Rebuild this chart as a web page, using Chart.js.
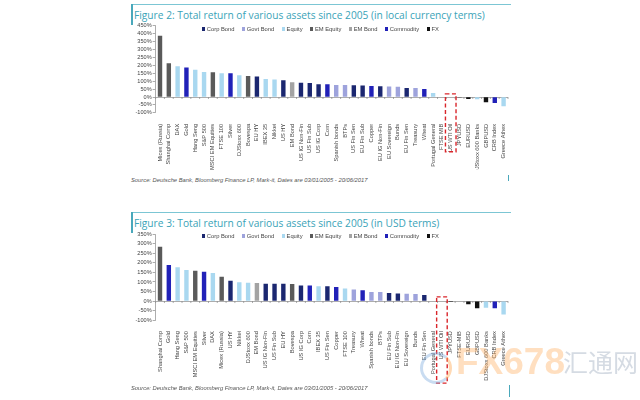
<!DOCTYPE html>
<html><head><meta charset="utf-8">
<script src="https://cdn.jsdelivr.net/npm/chart.js@4.4.0/dist/chart.umd.min.js"></script>
<style>
html,body{margin:0;padding:0;background:#fff;width:640px;height:400px;overflow:hidden;position:relative;font-family:"Liberation Sans",Arial,sans-serif}
.abs{position:absolute}
.title{color:#3aa3b8;font-family:"Open Sans",sans-serif;font-size:10.2px;line-height:10px;white-space:nowrap}
.src{font-style:italic;color:#555;font-size:5.8px;line-height:6px;white-space:nowrap}
.hline{height:1px;background:#7cc6d4}
.vline{background:#4aa8bb}
.legend{position:absolute;display:flex;align-items:center;font-size:5.8px;color:#444;white-space:nowrap;line-height:6px}
.legend span{display:inline-flex;align-items:center;margin-right:7.5px}
.legend i{display:inline-block;width:3.3px;height:3.3px;margin-right:1.5px}
canvas{position:absolute}
</style></head><body>

<div class="abs hline" style="left:131px;top:4px;width:380px"></div>
<div class="abs vline" style="left:131px;top:4px;width:1.5px;height:21px"></div>
<div class="abs title" style="left:134px;top:9.5px">Figure 2: Total return of various assets since 2005 (in local currency terms)</div>
<canvas id="c1" width="415" height="150" style="left:100px;top:20px"></canvas>
<div class="legend" id="lg1" style="left:202px;top:26px"></div>
<div class="abs src" style="left:131px;top:177px">Source: Deutsche Bank, Bloomberg Finance LP, Mark-it, Dates are 03/01/2005 - 20/06/2017</div>
<div class="abs vline" style="left:508px;top:175px;width:1px;height:6px"></div>

<div class="abs hline" style="left:131px;top:212px;width:380px"></div>
<div class="abs vline" style="left:131px;top:212px;width:1.5px;height:21px"></div>
<div class="abs title" style="left:134px;top:217.5px">Figure 3: Total return of various assets since 2005 (in USD terms)</div>
<canvas id="c2" width="415" height="164" style="left:100px;top:228px"></canvas>
<div class="legend" id="lg2" style="left:202px;top:233px"></div>
<div class="abs src" style="left:131px;top:385px">Source: Deutsche Bank, Bloomberg Finance LP, Mark-it, Dates are 03/01/2005 - 20/06/2017</div>
<div class="abs vline" style="left:509px;top:385px;width:1px;height:12px"></div>

<div class="abs" style="left:420px;top:352px;width:26px;height:26px;border-radius:50%;border:3px solid rgba(120,170,220,0.4);border-right-color:rgba(255,170,90,0.45)"></div>
<div class="abs" style="left:456px;top:341px;font-family:'Liberation Sans',sans-serif;font-weight:bold;font-size:37px;line-height:42px;color:rgba(255,170,90,0.38)">FX678</div>
<div class="abs" style="left:563px;top:343px;font-family:'Noto Sans CJK SC',sans-serif;font-size:25px;line-height:36px;color:rgba(150,165,185,0.4)">汇通网</div>

<script>
const classNames = ['Corp Bond','Govt Bond','Equity','EM Equity','EM Bond','Commodity','FX'];
const classColors = ['#1b2770','#9ea3dc','#a9d8f0','#5a5a5a','#a3a3a3','#2121b8','#111111'];

// Figure 2: local currency terms
const localLabels = ['Micex (Russia)','Shanghai Comp','DAX','Gold','Hang Seng','S&P 500','MSCI EM Equities','FTSE 100','Silver','DJStoxx 600','Bovespa','EU HY','IBEX 35','Nikkei','US HY','EM Bond','US IG Non-Fin','US Fin Sub','US IG Corp','Corn','Spanish bonds','BTPs','US Fin Sen','EU Fin Sub','Copper','EU IG Non-Fin','EU Sovereign','Bunds','EU Fin Sen','Treasury','Wheat','Portugal General','FTSE MIB','US WTI Oil','JPYUSD','EURUSD','DJStoxx 600 Banks','GBPUSD','CRB Index','Greece Athex'];
const localValues = [387,213,194,186,173,158,156,151,150,137,133,129,114,110,106,93,90,89,81,80,76,76,74,72,70,68,67,65,57,57,51,25,2,-1,-3,-12,-14,-34,-38,-59];
const localClasses = ['EM Equity','EM Equity','Equity','Commodity','Equity','Equity','EM Equity','Equity','Commodity','Equity','EM Equity','Corp Bond','Equity','Equity','Corp Bond','EM Bond','Corp Bond','Corp Bond','Corp Bond','Commodity','Govt Bond','Govt Bond','Corp Bond','Corp Bond','Commodity','Corp Bond','Govt Bond','Govt Bond','Corp Bond','Govt Bond','Commodity','Equity','Equity','Commodity','FX','FX','Equity','FX','Commodity','Equity'];
const localRange = [-100, 450];

// Figure 3: USD terms
const usdLabels = ['Shanghai Comp','Gold','Hang Seng','S&P 500','MSCI EM Equities','Silver','DAX','Micex (Russia)','US HY','Nikkei','DJStoxx 600','EM Bond','US IG Non-Fin','US Fin Sub','EU HY','Bovespa','US IG Corp','Corn','IBEX 35','US Fin Sen','Copper','FTSE 100','Treasury','Wheat','Spanish bonds','BTPs','EU Fin Sub','EU IG Non-Fin','EU Sovereign','Bunds','EU Fin Sen','Portugal General','US WTI Oil','JPYUSD','FTSE-MIB','EURUSD','GBPUSD','DJStoxx 600 Banks','CRB Index','Greece Athex'];
const usdValues = [285,189,177,163,159,154,147,128,107,98,96,94,91,91,91,89,82,82,77,77,73,66,61,56,47,47,42,40,38,37,32,1,1,-5,-3,-17,-38,-35,-38,-70];
const usdClasses = ['EM Equity','Commodity','Equity','Equity','EM Equity','Commodity','Equity','EM Equity','Corp Bond','Equity','Equity','EM Bond','Corp Bond','Corp Bond','Corp Bond','EM Equity','Corp Bond','Commodity','Equity','Corp Bond','Commodity','Equity','Govt Bond','Commodity','Govt Bond','Govt Bond','Corp Bond','Corp Bond','Govt Bond','Govt Bond','Corp Bond','Equity','Commodity','FX','Equity','FX','FX','Equity','Commodity','Equity'];
const usdRange = [-100, 350];

const highlightLabel = 'US WTI Oil';

function buildDatasets(values, classes){
  return classNames.map((n,k)=>({
    label:n,
    backgroundColor:classColors[k],
    borderWidth:0,
    data: values.map((v,i)=> classes[i]===n ? v : null),
    barPercentage:0.5,
    categoryPercentage:1
  }));
}

function buildLegend(id, chart){
  const el = document.getElementById(id);
  chart.data.datasets.forEach(ds=>{
    const s = document.createElement('span');
    const b = document.createElement('i');
    b.style.background = ds.backgroundColor;
    s.appendChild(b);
    s.appendChild(document.createTextNode(ds.label));
    el.appendChild(s);
  });
}

function makeChart(id, labels, values, classes, range, geo){
  const decor = {
    id:'decor'+id,
    afterDatasetsDraw(chart){
      const ctx = chart.ctx, xs = chart.scales.x, ys = chart.scales.y;
      const y0 = ys.getPixelForValue(0);
      const w = (xs.right - xs.left)/labels.length;
      ctx.save();
      ctx.strokeStyle = '#8a8a8a'; ctx.lineWidth = 0.7;
      ctx.beginPath();
      for(let i=0;i<=labels.length;i++){
        const x = xs.left + i*w;
        ctx.moveTo(x, y0); ctx.lineTo(x, y0+2);
      }
      ctx.stroke();
      const idx = labels.indexOf(highlightLabel);
      const xc = xs.getPixelForValue(idx);
      const top = ys.getPixelForValue(geo.boxTopValue);
      const bottom = ys.bottom + geo.boxBelow;
      ctx.strokeStyle = '#d9262b'; ctx.lineWidth = 1.4; ctx.setLineDash([4,2.5]);
      ctx.strokeRect(xc - w*0.6, top, w*1.2, bottom-top);
      ctx.restore();
    }
  };
  return new Chart(document.getElementById(id), {
    type:'bar',
    data:{labels, datasets: buildDatasets(values, classes)},
    options:{
      responsive:false, animation:false, devicePixelRatio:1,
      layout:{padding:{top:geo.padTop, right:geo.padRight, left:0, bottom:0}},
      plugins:{ tooltip:{enabled:false}, legend:{display:false} },
      scales:{
        x:{
          stacked:true,
          grid:{display:false},
          border:{display:false},
          ticks:{autoSkip:false, minRotation:90, maxRotation:90, padding:3,
                 color:'#444', font:{family:'Liberation Sans', size:5.7}},
          afterFit(s){ s.height = geo.xHeight; }
        },
        y:{
          stacked:true,
          min:range[0], max:range[1],
          ticks:{stepSize:50, autoSkip:false, padding:1, color:'#444',
                 font:{family:'Liberation Sans', size:5.6},
                 callback:v=>v+'%'},
          grid:{drawOnChartArea:true, tickLength:3, tickColor:'#8a8a8a', lineWidth:0.7,
                color:c=> c.tick && c.tick.value===0 ? '#8a8a8a' : 'rgba(0,0,0,0)'},
          border:{display:true, color:'#8a8a8a', width:0.7},
          afterFit(s){ s.width = geo.yWidth; }
        }
      }
    },
    plugins:[decor]
  });
}

const ch1 = makeChart('c1', localLabels, localValues, localClasses, localRange,
  {padTop:5.9, padRight:7, yWidth:55.6, xHeight:57.2, boxTopValue:20, boxBelow:39});
const ch2 = makeChart('c2', usdLabels, usdValues, usdClasses, usdRange,
  {padTop:6.3, padRight:7, yWidth:55.6, xHeight:71.9, boxTopValue:22, boxBelow:63});
buildLegend('lg1', ch1);
buildLegend('lg2', ch2);
</script>
</body></html>
